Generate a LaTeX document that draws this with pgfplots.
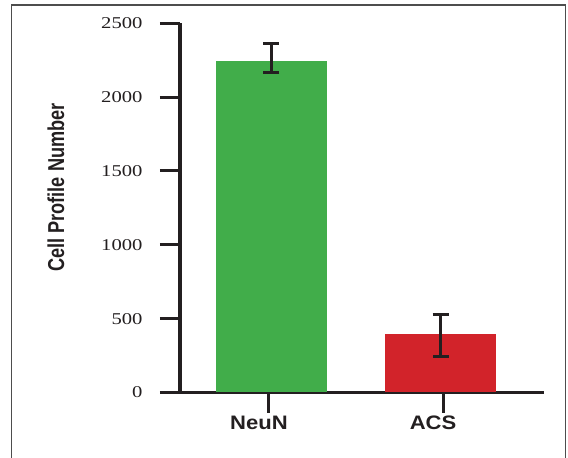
\documentclass[border=0pt]{standalone}
\usepackage{pgfplots}
\pgfplotsset{compat=1.18}
\usepackage{fontspec}
\setmainfont{Liberation Serif}
\newfontfamily\tickfont[FakeStretch=1.25]{Liberation Serif}
\newfontfamily\lblfont[FakeStretch=1.13]{Liberation Sans}
\newfontfamily\ylblfont[FakeStretch=0.79]{Liberation Sans}
\definecolor{axisgray}{HTML}{231F20}
\definecolor{barGreen}{HTML}{41AD4A}
\definecolor{barRed}{HTML}{D2232A}
\definecolor{frameGray}{HTML}{4D4D4D}
\pgfplotstableread{
x y ep em
0 2245 120 80
}\neun
\pgfplotstableread{
x y ep em
1 396 129 154
}\acs
\begin{document}
\begin{tikzpicture}[x=1pt,y=1pt]
\useasboundingbox (0,0) rectangle (568,458);
\draw[frameGray, line width=1.5pt] (11.5,-2) -- (11.5,453) -- (565.5,453) -- (565.5,-2);
\begin{axis}[
  at={(180pt,65.5pt)}, anchor=south west,
  scale only axis, width=364pt, height=369.2pt,
  xmin=-0.541, xmax=1.612, ymin=0, ymax=2500,
  axis lines=left,
  axis line style={line width=3.5pt, color=axisgray, -},
  ytick={0,500,1000,1500,2000,2500},
  xtick={-0.015,1.015}, xticklabels={NeuN,ACS},
  tick align=outside, major tick length=20pt,
  tick style={line width=3pt, color=axisgray},
  /pgf/number format/assume math mode=true,
  /pgf/number format/set thousands separator={},
  yticklabel style={font=\tickfont\fontsize{16.5}{18}\selectfont, text=axisgray, xshift=-14pt},
  xticklabel style={font=\lblfont\bfseries\fontsize{19.5}{22}\selectfont, text=axisgray, xshift=-10pt},
  ylabel={Cell Profile Number},
  ylabel style={at={(axis description cs:-0.341,0.555)}, anchor=center, font=\ylblfont\bfseries\fontsize{23}{26}\selectfont, text=axisgray},
  clip=false,
]
\addplot[ybar, bar width=111pt, fill=barGreen, draw=none,
  error bars/.cd, y dir=both, y explicit,
  error bar style={line width=3pt, color=axisgray},
  error mark options={rotate=90, mark size=8pt, line width=3pt, color=axisgray}]
  table[x=x, y=y, y error plus=ep, y error minus=em] {\neun};
\addplot[ybar, bar width=111pt, fill=barRed, draw=none,
  error bars/.cd, y dir=both, y explicit,
  error bar style={line width=3pt, color=axisgray},
  error mark options={rotate=90, mark size=8pt, line width=3pt, color=axisgray}]
  table[x=x, y=y, y error plus=ep, y error minus=em] {\acs};
\end{axis}
\end{tikzpicture}
\end{document}
